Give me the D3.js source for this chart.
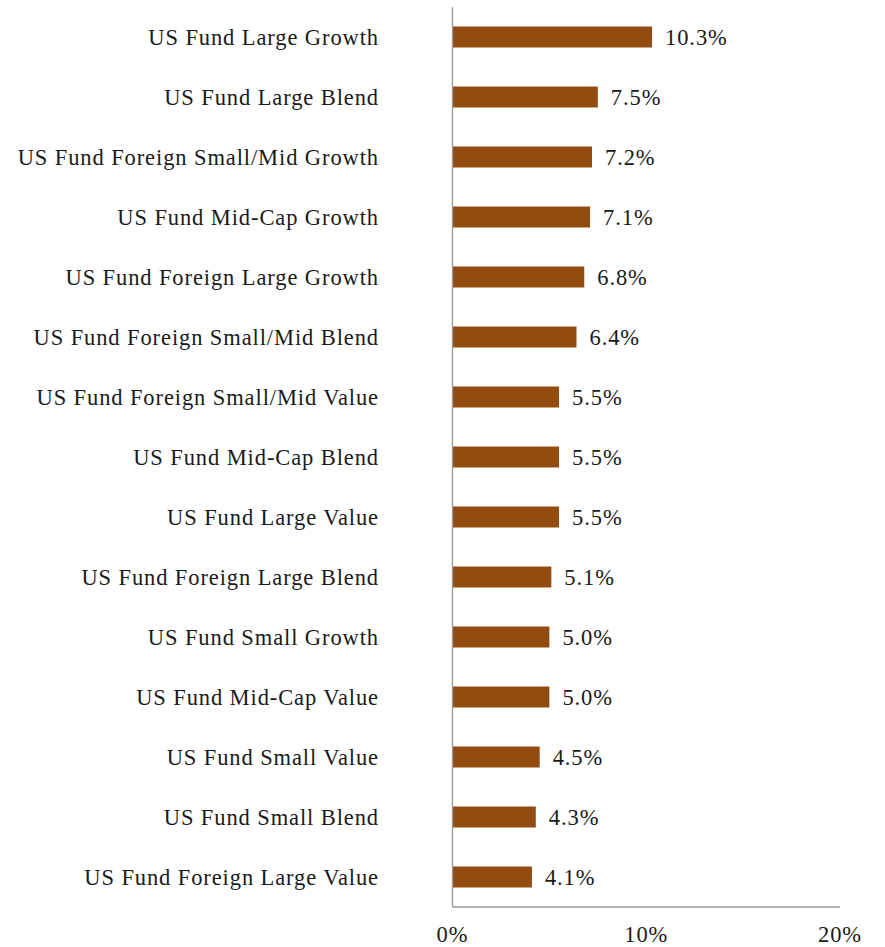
<!DOCTYPE html>
<html><head><meta charset="utf-8">
<script src="https://cdn.jsdelivr.net/npm/d3@7"></script>
<style>body{margin:0;background:#fff}text{font-family:"Liberation Serif","Times New Roman",serif;fill:#1a1a1a;letter-spacing:0.9px}</style>
</head><body><svg id="c" width="885" height="947"></svg>
<script>
const categories = ["US Fund Large Growth","US Fund Large Blend","US Fund Foreign Small/Mid Growth","US Fund Mid-Cap Growth","US Fund Foreign Large Growth","US Fund Foreign Small/Mid Blend","US Fund Foreign Small/Mid Value","US Fund Mid-Cap Blend","US Fund Large Value","US Fund Foreign Large Blend","US Fund Small Growth","US Fund Mid-Cap Value","US Fund Small Value","US Fund Small Blend","US Fund Foreign Large Value"];
const values = [10.3,7.5,7.2,7.1,6.8,6.4,5.5,5.5,5.5,5.1,5.0,5.0,4.5,4.3,4.1];
const tickValues = [0,10,20];

(function(){
const svg = d3.select("#c");
const mL = 452.5, mR = 840, mT = 7, mB = 907;
const fs = 22.5;
const x = d3.scaleLinear().domain([0,20]).range([mL,mR]);
const y = d3.scaleBand().domain(categories).range([mT,mB]).paddingInner(0.65).paddingOuter(0.325);

svg.selectAll("rect.bar").data(values).join("rect").attr("class","bar")
  .attr("x", x(0)).attr("y",(d,i)=>y(categories[i]))
  .attr("width", d=>x(d)-x(0)).attr("height", y.bandwidth())
  .attr("fill","#934c0f");

svg.selectAll("text.val").data(values).join("text").attr("class","val")
  .attr("x", d=>x(d)+13).attr("y",(d,i)=>y(categories[i])+y.bandwidth()/2)
  .attr("dy","0.35em").attr("font-size",fs).text(d=>d.toFixed(1)+"%");

svg.selectAll("text.cat").data(categories).join("text").attr("class","cat")
  .attr("x", 379).attr("y", d=>y(d)+y.bandwidth()/2).attr("dy","0.35em")
  .attr("text-anchor","end").attr("font-size",fs).text(d=>d);

svg.append("line").attr("x1",mL).attr("x2",mL).attr("y1",mT).attr("y2",mB).attr("stroke","#999").attr("stroke-width",1.3);
svg.append("line").attr("x1",mL).attr("x2",mR).attr("y1",mB).attr("y2",mB).attr("stroke","#999").attr("stroke-width",1.3);

svg.selectAll("text.tick").data(tickValues).join("text").attr("class","tick")
  .attr("x", d=>x(d)).attr("y", 941.5).attr("text-anchor","middle").attr("font-size",fs).text(d=>d+"%");
})();
</script></body></html>
